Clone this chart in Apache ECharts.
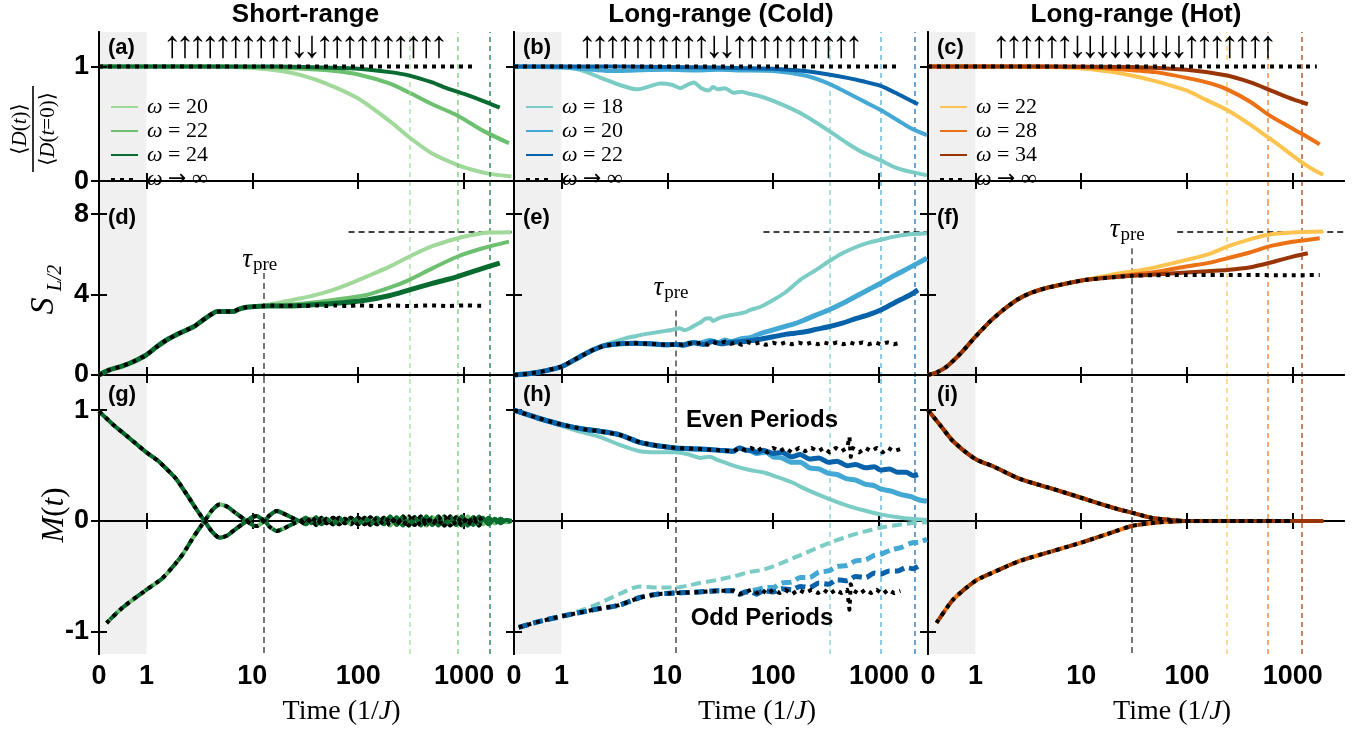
<!DOCTYPE html>
<html><head><meta charset="utf-8">
<script src="https://cdn.jsdelivr.net/npm/echarts@6/dist/echarts.min.js"></script>
<style>html,body{margin:0;padding:0;background:#fff}#c{width:1369px;height:731px}</style>
</head><body><div id="c"></div>
<script>
// ================= DATA =================
const tickTimes = [0, 1, 10, 100, 1000];
const tickLabels = ['0', '1', '10', '100', '1000'];
const panelTitles = ['Short-range', 'Long-range (Cold)', 'Long-range (Hot)'];
const panelTags = ['(a)', '(b)', '(c)', '(d)', '(e)', '(f)', '(g)', '(h)', '(i)'];
const spinsA = '↑↑↑↑↑↑↑↑↑↑↓↓↑↑↑↑↑↑↑↑↑↑';
const spinsB = '↑↑↑↑↑↑↑↑↑↑↓↓↑↑↑↑↑↑↑↑↑↑';
const spinsC = '↑↑↑↑↑↑↓↓↓↓↓↓↓↓↓↑↑↑↑↑↑↑';
const omegaA = ['20', '22', '24'];
const omegaB = ['18', '20', '22'];
const omegaC = ['22', '28', '34'];
const tHeatA = [305, 869, 1730];
const tHeatB = [340, 1035, 2183];
const tHeatC = [240, 587, 1231];
const tauPre = [12.9, 11.9, 30];
const tauLineTop = [5.07, 3.2, 6.3];     // S value where tau line starts (row 2)
const tauLabelLevel = [5.72, 4.33, 7.21]; // S value of tau label centre
const pageValue = 7.1;
const pageStart = 81;
const zeroStart = 200;

// (a) normalized domain wall
const a_w20 = [[0,1],[1,1],[5,1],[10,0.985],[20,0.955],[30,0.92],[50,0.85],[100,0.72],[200,0.52],[305,0.38],[500,0.24],[870,0.14],[1300,0.09],[1700,0.065],[2800,0.04]];
const a_w22 = [[0,1],[1,1],[10,0.995],[30,0.98],[60,0.96],[100,0.93],[200,0.85],[305,0.77],[500,0.67],[870,0.57],[1500,0.44],[2650,0.33]];
const a_w24 = [[0,1],[1,1],[10,1],[30,0.995],[100,0.98],[200,0.95],[305,0.92],[500,0.86],[640,0.82],[1000,0.76],[1500,0.70],[2170,0.64]];
const a_inf = [[0,1],[1320,1]];
// (b)
const b_w18 = [[0,1],[1,1],[1.5,0.97],[2.3,0.905],[3.5,0.84],[5.2,0.80],[7,0.83],[8.6,0.85],[11,0.84],[13.3,0.81],[15.5,0.84],[17.8,0.86],[21,0.81],[24.7,0.79],[27,0.82],[30,0.80],[35,0.81],[42,0.77],[50,0.78],[60,0.76],[75,0.74],[100,0.70],[150,0.63],[200,0.57],[334,0.44],[500,0.33],[700,0.25],[1035,0.18],[1500,0.11],[2000,0.08],[2830,0.05]];
const b_w20 = [[0,1],[1,0.99],[2,0.97],[3,0.96],[5,0.965],[10,0.97],[20,0.965],[30,0.97],[50,0.965],[100,0.96],[200,0.92],[334,0.85],[500,0.77],[700,0.70],[1035,0.62],[1500,0.53],[2000,0.46],[2830,0.40]];
const b_w22 = [[0,1],[1,1],[10,0.995],[30,0.99],[100,0.98],[200,0.96],[334,0.93],[500,0.90],[700,0.87],[1035,0.83],[1500,0.76],[2330,0.67]];
const b_inf = [[0,1],[1520,1]];
// (c)
const c_w22 = [[0,1],[1,1],[5,0.995],[11,0.98],[20,0.95],[30,0.92],[48,0.876],[99,0.79],[150,0.71],[240,0.62],[400,0.49],[587,0.38],[800,0.29],[1231,0.16],[1500,0.11],[1940,0.055]];
const c_w28 = [[0,1],[1,1],[10,0.995],[20,0.98],[50,0.95],[99,0.90],[170,0.85],[240,0.80],[400,0.69],[587,0.58],[900,0.48],[1231,0.41],[1800,0.32]];
const c_w34 = [[0,1],[1,1],[30,0.995],[99,0.97],[240,0.92],[400,0.86],[587,0.80],[900,0.73],[1390,0.67]];
const c_inf = [[0,1],[1690,1]];
// (d) half-chain entanglement entropy
const d_base = [[0,0],[0.22,0.25],[0.5,0.45],[0.72,0.66],[1,1.0],[1.25,1.4],[1.55,1.74],[2,2.05],[2.4,2.24],[2.8,2.4],[3.2,2.62],[3.8,2.9],[4.6,3.15],[5.5,3.16],[6.6,3.15],[7.5,3.28],[8.8,3.37],[10.5,3.4],[12.9,3.43]];
const d_inf_tail = [[16,3.45],[20,3.43],[25,3.46],[30,3.42],[40,3.46],[50,3.43],[60,3.46],[80,3.43],[100,3.46],[150,3.43],[200,3.46],[300,3.43],[500,3.46],[700,3.43],[1000,3.46],[1500,3.44]];
const d_w20_tail = [[16,3.55],[20,3.65],[28,3.8],[40,3.98],[58,4.23],[80,4.5],[120,4.89],[200,5.4],[305,5.89],[500,6.4],[869,6.8],[1300,7.0],[1700,7.08],[2800,7.1]];
const d_w22_tail = [[20,3.48],[30,3.55],[58,3.73],[120,3.98],[200,4.35],[305,4.73],[500,5.3],[869,5.89],[1500,6.3],[2650,6.63]];
const d_w24_tail = [[20,3.43],[30,3.46],[58,3.55],[120,3.73],[200,3.95],[305,4.23],[500,4.55],[869,4.89],[1400,5.25],[2170,5.56]];
// (e)
const e_base = [[0,0],[0.3,0.06],[0.6,0.18],[1,0.41],[1.5,0.91],[2,1.25],[2.5,1.45],[3.5,1.55],[5,1.58],[7,1.55],[10,1.5],[12,1.52]];
const e_inf_tail = [[14,1.5],[16,1.58],[18,1.52],[21,1.62],[24,1.5],[27,1.64],[30,1.55],[35,1.66],[40,1.55],[45,1.62],[50,1.5],[57,1.64],[65,1.54],[75,1.62],[85,1.5],[100,1.6],[115,1.52],[130,1.62],[150,1.53],[175,1.61],[200,1.52],[230,1.62],[265,1.53],[300,1.62],[350,1.53],[400,1.62],[460,1.53],[530,1.62],[600,1.53],[700,1.62],[800,1.53],[920,1.62],[1050,1.52],[1200,1.62],[1380,1.53],[1590,1.6]];
const e_w18 = [[0,0],[0.3,0.06],[0.6,0.18],[1,0.41],[1.5,0.91],[2,1.25],[2.5,1.47],[3,1.62],[4,1.82],[4.8,1.91],[6,2.02],[8.7,2.16],[11,2.24],[13,2.32],[14.5,2.22],[16,2.3],[18,2.45],[21,2.65],[23,2.8],[25.4,2.82],[27,2.68],[30,2.8],[34,2.9],[40,2.98],[48,3.05],[55,3.12],[60,3.23],[75,3.38],[100,3.73],[130,4.1],[180,4.73],[250,5.2],[334,5.64],[450,6.05],[600,6.35],[800,6.58],[1035,6.72],[1400,6.88],[1800,6.97],[2300,7.02],[2830,7.05]];
const e_w20_tail = [[14,1.5],[17,1.62],[20,1.58],[25,1.72],[30,1.6],[35,1.74],[40,1.66],[50,1.8],[60,1.85],[75,2.05],[100,2.24],[130,2.42],[160,2.55],[200,2.75],[260,3.0],[334,3.23],[450,3.55],[600,3.9],[800,4.25],[1035,4.56],[1400,4.95],[1800,5.25],[2300,5.55],[2830,5.8]];
const e_w22_tail = [[14,1.48],[18,1.6],[22,1.52],[27,1.66],[32,1.55],[40,1.62],[50,1.65],[60,1.7],[75,1.78],[100,1.9],[130,2.02],[160,2.08],[200,2.15],[260,2.28],[334,2.4],[450,2.58],[600,2.8],[800,3.0],[1035,3.23],[1300,3.5],[1600,3.75],[2000,4.0],[2330,4.23]];
// (f)
const f_base = [[0,0],[0.2,0.15],[0.39,0.41],[0.7,1.1],[1,1.9],[1.4,2.7],[1.83,3.23],[2.5,3.75],[3.27,4.06],[4.5,4.3],[6.3,4.48],[8.5,4.62],[11.2,4.73],[20,4.86],[30,4.93]];
const f_inf_tail = [[50,4.96],[100,4.97],[300,4.97],[1000,4.96],[1800,4.97]];
const f_w22_tail = [[20,5.0],[30,5.14],[50,5.35],[99,5.72],[170,6.05],[240,6.38],[400,6.75],[587,6.97],[1000,7.08],[1940,7.13]];
const f_w28_tail = [[20,4.88],[30,4.98],[50,5.12],[99,5.39],[170,5.6],[240,5.8],[400,6.1],[587,6.38],[1000,6.62],[1800,6.8]];
const f_w34_tail = [[50,4.99],[99,5.1],[170,5.17],[240,5.22],[400,5.36],[587,5.56],[900,5.82],[1390,6.05]];
// (g) magnetization, even / odd periods
const g_even = [[0,0.99],[0.3,0.87],[0.58,0.77],[1,0.62],[1.3,0.54],[1.55,0.47],[1.91,0.38],[2.4,0.24],[2.9,0.12],[3.54,0],[4.2,-0.1],[4.9,-0.15],[5.8,-0.13],[7,-0.07],[8.85,0],[10,0.035],[11,0.045],[12,0.025],[13,0],[14.5,0.05],[17,0.09],[19.5,0.07],[22,0.045],[25,0.02],[28,0],[32,0.03],[36,-0.02],[40,0.035],[45,-0.03],[50,0.02],[58,-0.03],[66,0.03],[75,-0.02],[85,0.03],[100,-0.03],[115,0.03],[130,-0.035],[150,0.03],[175,-0.03],[200,0.04],[230,-0.035],[265,0.04],[300,-0.04],[340,0.035],[390,-0.04],[440,0.04],[500,-0.035],[570,0.04],[650,-0.04],[740,0.04],[840,-0.035],[950,0.04],[1080,-0.04],[1220,0.035],[1380,-0.04],[1500,0.03],[1700,-0.03],[1950,0.02],[2200,-0.02],[2500,0.01],[2800,0]];
const g_odd = [[0.16,-0.92],[0.5,-0.78],[1,-0.62],[1.4,-0.52],[1.75,-0.42],[2.2,-0.3],[2.8,-0.14],[3.54,0],[4.2,0.1],[4.9,0.15],[5.8,0.13],[7,0.07],[8.85,0],[10,-0.035],[11,-0.045],[12,-0.025],[13,0],[14.5,-0.05],[17,-0.09],[19.5,-0.07],[22,-0.045],[25,-0.02],[28,0],[32,-0.03],[36,0.02],[40,-0.035],[45,0.03],[50,-0.02],[58,0.03],[66,-0.03],[75,0.02],[85,-0.03],[100,0.03],[115,-0.03],[130,0.035],[150,-0.03],[175,0.03],[200,-0.04],[230,0.035],[265,-0.04],[300,0.04],[340,-0.035],[390,0.04],[440,-0.04],[500,0.035],[570,-0.04],[650,0.04],[740,-0.04],[840,0.035],[950,-0.04],[1080,0.04],[1220,-0.035],[1380,0.04],[1500,-0.03],[1700,0.03],[1950,-0.02],[2200,0.02],[2500,-0.01],[2800,0]];
// (h)
const h_even_base = [[0,1.0],[0.5,0.93],[1,0.87],[1.6,0.83],[2.3,0.81],[3.5,0.78],[5.5,0.71],[8,0.68],[11.9,0.66],[20,0.65],[30,0.64],[42,0.63],[48,0.66],[55,0.64]];
const h_even_inf_tail = [[62,0.66],[70,0.63],[78,0.66],[88,0.62],[100,0.66],[115,0.63],[130,0.66],[150,0.62],[175,0.66],[200,0.63],[230,0.66],[265,0.63],[300,0.66],[340,0.62],[390,0.66],[440,0.63],[500,0.66],[525,0.76],[540,0.58],[560,0.66],[650,0.62],[740,0.66],[840,0.63],[950,0.66],[1080,0.62],[1220,0.66],[1380,0.63],[1590,0.65]];
const h_even_w22_tail = [[62,0.64],[70,0.62],[80,0.64],[100,0.61],[120,0.62],[150,0.58],[180,0.6],[220,0.56],[270,0.57],[334,0.53],[400,0.54],[500,0.5],[600,0.51],[750,0.48],[900,0.49],[1035,0.46],[1250,0.47],[1500,0.44],[1800,0.44],[2100,0.41],[2330,0.42]];
const h_even_w20_tail = [[62,0.63],[70,0.61],[85,0.62],[100,0.58],[120,0.57],[150,0.53],[180,0.53],[220,0.48],[270,0.47],[334,0.43],[400,0.42],[500,0.38],[600,0.37],[750,0.33],[900,0.32],[1035,0.29],[1300,0.27],[1600,0.24],[2000,0.22],[2400,0.19],[2830,0.18]];
const h_even_w18 = [[0,1.0],[0.5,0.93],[1,0.86],[1.6,0.8],[2.3,0.76],[3.5,0.69],[5.5,0.63],[8,0.62],[11.9,0.62],[16,0.6],[20.4,0.57],[25,0.58],[30,0.55],[42,0.5],[60,0.46],[80,0.44],[100,0.41],[150,0.35],[200,0.29],[334,0.2],[500,0.14],[700,0.1],[1035,0.06],[1500,0.035],[2000,0.02],[2830,0.01]];
const h_odd_base = [[0.1,-0.96],[0.5,-0.91],[1,-0.86],[1.6,-0.82],[2.3,-0.79],[3.5,-0.76],[5.5,-0.69],[8,-0.66],[11.9,-0.65],[20,-0.64],[30,-0.63],[42,-0.63],[48,-0.66],[55,-0.64]];
const h_odd_inf_tail = [[62,-0.62],[70,-0.65],[78,-0.62],[88,-0.66],[100,-0.62],[115,-0.65],[130,-0.62],[150,-0.66],[175,-0.62],[200,-0.65],[230,-0.62],[265,-0.65],[300,-0.62],[340,-0.66],[390,-0.62],[440,-0.65],[500,-0.62],[525,-0.8],[540,-0.57],[560,-0.62],[650,-0.66],[740,-0.62],[840,-0.65],[950,-0.62],[1080,-0.66],[1220,-0.62],[1380,-0.65],[1590,-0.63]];
const h_odd_w22_tail = [[62,-0.64],[70,-0.66],[80,-0.63],[100,-0.64],[120,-0.61],[150,-0.62],[180,-0.59],[220,-0.6],[270,-0.56],[334,-0.57],[400,-0.53],[500,-0.54],[600,-0.5],[750,-0.51],[900,-0.47],[1035,-0.48],[1250,-0.45],[1500,-0.45],[1800,-0.42],[2100,-0.43],[2330,-0.41]];
const h_odd_w20_tail = [[62,-0.63],[70,-0.62],[85,-0.6],[100,-0.6],[120,-0.56],[150,-0.55],[180,-0.51],[220,-0.51],[270,-0.46],[334,-0.45],[400,-0.41],[500,-0.4],[600,-0.36],[750,-0.35],[900,-0.31],[1035,-0.3],[1300,-0.26],[1600,-0.24],[2000,-0.2],[2400,-0.19],[2830,-0.165]];
const h_odd_w18 = [[0.1,-0.96],[0.5,-0.91],[1,-0.86],[1.6,-0.8],[2.3,-0.74],[3.5,-0.66],[5.5,-0.59],[8,-0.6],[11.9,-0.6],[16,-0.58],[20,-0.56],[30,-0.53],[42,-0.5],[60,-0.46],[80,-0.44],[100,-0.41],[150,-0.34],[200,-0.29],[334,-0.2],[500,-0.14],[700,-0.1],[1035,-0.06],[1500,-0.035],[2000,-0.02],[2830,-0.01]];
// (i)
const i_even = [[0,1.0],[0.25,0.87],[0.53,0.72],[1,0.56],[1.5,0.49],[2.63,0.38],[5,0.3],[10,0.21],[20,0.12],[30,0.076],[46,0.03],[70,0.01],[99,0],[300,0],[1000,0],[1940,0]];
const i_odd = [[0.18,-0.92],[0.53,-0.71],[1,-0.54],[1.5,-0.46],[2.63,-0.36],[5,-0.28],[10,-0.195],[20,-0.1],[30,-0.045],[50,-0.015],[99,0],[300,0],[1000,0],[1940,0]];

// ================= STYLE / LAYOUT =================
const GREENS = ['#a1d99b', '#6cc070', '#0a6b30'];
const BLUES = ['#7bccc4', '#43a8d4', '#0862aa'];
const ORANGES = ['#fec44f', '#ec7014', '#993404'];
const PALS = [GREENS, BLUES, ORANGES];
const SANS = "'Liberation Sans', Arial, sans-serif";
const SERIF = "'Liberation Serif', 'DejaVu Serif', serif";
const DOT = [4, 5];
const DASH = [10, 5];

const XL = 0.448;
const tu = t => (t <= 1 ? t * XL : XL + Math.log10(t));
const P = a => a.map(p => [tu(p[0]), p[1]]);
const upTo = (a, tmax) => a.filter(p => p[0] <= tmax);
const tickU = tickTimes.map(tu);

const cols = [{l: 99, w: 413, max: 3.9}, {l: 514, w: 414, max: 3.91}, {l: 928, w: 416, max: 3.933}];
const rows = [
  {t: 32, h: 172, min: -0.2, max: 1.3, ticks: [0, 1]},
  {t: 204, h: 173, min: -0.1, max: 8.5, ticks: [0, 4, 8]},
  {t: 377, h: 277, min: -1.2, max: 1.3, ticks: [-1, 0, 1]}
];

const grid = [], xAxis = [], yAxis = [], series = [];
const axisLine = {show: true, lineStyle: {color: '#000', width: 2}};
const axisTickBase = {show: true, inside: true, length: 8, lineStyle: {color: '#000', width: 2}};
const labFmt = v => { const i = tickU.findIndex(u => Math.abs(u - v) < 1e-6); return i >= 0 ? tickLabels[i] : ''; };

for (let r = 0; r < 3; r++) for (let c = 0; c < 3; c++) {
  const k = r * 3 + c;
  grid.push({left: cols[c].l, top: rows[r].t, width: cols[c].w, height: rows[r].h, containLabel: false, outerBoundsMode: 'none'});
  ['bottom', 'top'].forEach((pos, j) => xAxis.push({
    type: 'value', gridIndex: k, position: pos, min: 0, max: cols[c].max, z: 6,
    axisLine, splitLine: {show: false},
    axisTick: Object.assign({}, axisTickBase, {customValues: tickU}),
    axisLabel: {show: r === 2 && j === 0, customValues: tickU, formatter: labFmt, fontSize: 27, fontFamily: SANS, fontWeight: 'bold', color: '#000', margin: 9}
  }));
  ['left', 'right'].forEach((pos, j) => yAxis.push({
    type: 'value', gridIndex: k, position: pos, min: rows[r].min, max: rows[r].max, z: 6,
    axisLine, splitLine: {show: false},
    axisTick: Object.assign({}, axisTickBase, {customValues: rows[r].ticks}),
    axisLabel: {show: c === 0 && j === 0, customValues: rows[r].ticks, fontSize: 27, fontFamily: SANS, fontWeight: 'bold', color: '#000', margin: 10}
  }));
}

let zc = 3;
function L(k, name, arr, color, opt) {
  opt = opt || {};
  series.push({
    type: 'line', name, xAxisIndex: 2 * k, yAxisIndex: 2 * k, data: P(arr),
    symbol: 'none', showSymbol: false, silent: true, animation: false,
    smooth: opt.smooth === undefined ? 0.25 : opt.smooth,
    lineStyle: {color, width: opt.w || 4, type: opt.type || 'solid', cap: 'butt', join: 'round', dashOffset: opt.off || 0},
    itemStyle: {color}, z: zc++
  });
}

// annotation series (shading + reference lines) for every panel
const tHeats = [tHeatA, tHeatB, tHeatC];
for (let r = 0; r < 3; r++) for (let c = 0; c < 3; c++) {
  const k = r * 3 + c, R = rows[r], xmax = cols[c].max;
  series.push({
    type: 'line', xAxisIndex: 2 * k, yAxisIndex: 2 * k, data: [], symbol: 'none', silent: true, animation: false, z: 1,
    markArea: {silent: true, itemStyle: {color: '#f0f0f0'}, data: [[{coord: [0, R.min]}, {coord: [XL, R.max]}]]}
  });
  const lines = [];
  tHeats[c].forEach((t, i) => lines.push([
    {coord: [tu(t), R.min], lineStyle: {color: PALS[c][i], width: 1.6, type: [5, 4], opacity: 0.75}},
    {coord: [tu(t), R.max]}
  ]));
  const dl = {color: '#000', width: 1.6, type: [6, 4]};
  if (r === 0) lines.push([{coord: [tu(zeroStart), 0], lineStyle: dl}, {coord: [xmax, 0]}]);
  if (r === 1) {
    lines.push([{coord: [tu(pageStart), pageValue], lineStyle: dl}, {coord: [xmax, pageValue]}]);
    lines.push([{coord: [tu(tauPre[c]), tauLineTop[c]], lineStyle: {color: '#555', width: 1.6, type: [6, 4]}}, {coord: [tu(tauPre[c]), R.min]}]);
  }
  if (r === 2) {
    lines.push([{coord: [tu(0.2), 0], lineStyle: Object.assign({}, dl, {color: '#333'})}, {coord: [xmax, 0]}]);
    lines.push([{coord: [tu(tauPre[c]), R.max], lineStyle: {color: '#555', width: 1.6, type: [6, 4]}}, {coord: [tu(tauPre[c]), R.min]}]);
  }
  series.push({
    type: 'line', xAxisIndex: 2 * k, yAxisIndex: 2 * k, data: [], symbol: 'none', silent: true, animation: false, z: 2,
    markLine: {silent: true, symbol: ['none', 'none'], label: {show: false}, animation: false, data: lines}
  });
}

// row 1
L(0, 'a20', a_w20, GREENS[0]); L(0, 'a22', a_w22, GREENS[1]); L(0, 'a24', a_w24, GREENS[2]); L(0, 'ainf', a_inf, '#000', {type: DOT, smooth: 0});
L(1, 'b18', b_w18, BLUES[0]); L(1, 'b20', b_w20, BLUES[1]); L(1, 'b22', b_w22, BLUES[2]); L(1, 'binf', b_inf, '#000', {type: DOT, smooth: 0});
L(2, 'c22', c_w22, ORANGES[0]); L(2, 'c28', c_w28, ORANGES[1]); L(2, 'c34', c_w34, ORANGES[2]); L(2, 'cinf', c_inf, '#000', {type: DOT, smooth: 0});
// row 2
L(3, 'd20', d_base.concat(d_w20_tail), GREENS[0]);
L(3, 'd22', d_base.concat(d_w22_tail), GREENS[1]);
L(3, 'd24', d_base.concat(d_w24_tail), GREENS[2], {w: 5});
L(3, 'dinf', d_base.concat(d_inf_tail), '#000', {type: DOT});
L(4, 'e18', e_w18, BLUES[0]);
L(4, 'e20', e_base.concat(e_w20_tail), BLUES[1], {w: 5});
L(4, 'e22', e_base.concat(e_w22_tail), BLUES[2], {w: 5});
L(4, 'einf', e_base.concat(e_inf_tail), '#000', {type: DOT, smooth: 0});
L(5, 'f22', upTo(f_base, 11.2).concat(f_w22_tail), ORANGES[0]);
L(5, 'f28', upTo(f_base, 11.2).concat(f_w28_tail), ORANGES[1]);
L(5, 'f34', f_base.concat(f_w34_tail), ORANGES[2]);
L(5, 'finf', f_base.concat(f_inf_tail), '#000', {type: DOT});
// row 3
GREENS.forEach((col, i) => { L(6, 'g' + i + 'e', g_even, col); L(6, 'g' + i + 'o', g_odd, col, {type: DASH, off: i * 5}); });
L(6, 'ginfe', upTo(g_even, 1500), '#000', {type: DOT}); L(6, 'ginfo', upTo(g_odd, 1500), '#000', {type: DOT});
L(7, 'h18e', h_even_w18, BLUES[0]); L(7, 'h18o', h_odd_w18, BLUES[0], {type: DASH});
L(7, 'h20e', h_even_base.concat(h_even_w20_tail), BLUES[1], {w: 5}); L(7, 'h20o', h_odd_base.concat(h_odd_w20_tail), BLUES[1], {w: 5, type: DASH});
L(7, 'h22e', h_even_base.concat(h_even_w22_tail), BLUES[2], {w: 5}); L(7, 'h22o', h_odd_base.concat(h_odd_w22_tail), BLUES[2], {w: 5, type: DASH});
L(7, 'hinfe', h_even_base.concat(h_even_inf_tail), '#000', {type: DOT, smooth: 0}); L(7, 'hinfo', h_odd_base.concat(h_odd_inf_tail), '#000', {type: DOT, smooth: 0});
ORANGES.forEach((col, i) => { L(8, 'i' + i + 'e', i_even, col); L(8, 'i' + i + 'o', i_odd, col, {type: DASH, off: i * 5}); });
L(8, 'iinfe', upTo(i_even, 1800), '#000', {type: DOT}); L(8, 'iinfo', upTo(i_odd, 1800), '#000', {type: DOT});

// legends (row 1)
const omegas = [omegaA, omegaB, omegaC];
const legNames = [['a20', 'a22', 'a24', 'ainf'], ['b18', 'b20', 'b22', 'binf'], ['c22', 'c28', 'c34', 'cinf']];
const legend = [0, 1, 2].map(c => ({
  orient: 'vertical', left: cols[c].l + 11, top: 96, padding: 0, itemGap: 2, itemWidth: 27, itemHeight: 14,
  selectedMode: false, data: legNames[c], itemStyle: {opacity: 0, borderWidth: 0},
  formatter: name => { const i = legNames[c].indexOf(name); return i < 3 ? '{w|ω} = ' + omegas[c][i] : '{w|ω} {a|→} ∞'; },
  textStyle: {fontFamily: SERIF, fontSize: 22, color: '#000', lineHeight: 22, padding: [0, 0, 0, 4],
    rich: {w: {fontFamily: SERIF, fontStyle: 'italic', fontSize: 22, color: '#000'},
           a: {fontFamily: "'DejaVu Sans', sans-serif", fontSize: 22, color: '#000'}}}
}));

// ================= GRAPHIC TEXT =================
const g = [];
const T = (x, y, text, font, extra) => g.push(Object.assign({type: 'text', x, y, z: 20, silent: true,
  style: Object.assign({text, font, fill: '#000', align: 'center', verticalAlign: 'middle'}, extra || {})}));
panelTitles.forEach((s, c) => T(cols[c].l + cols[c].w / 2, 15, s, `bold 26px ${SANS}`));
panelTags.forEach((s, k) => { const r = Math.floor(k / 3), c = k % 3; T(cols[c].l + 9, [48, 218, 395][r], s, `bold 22px ${SANS}`, {align: 'left'}); });
[spinsA, spinsB, spinsC].forEach((s, c) => Array.from(s).forEach((ch, i) =>
  T(cols[c].l + 73 + i * 12.7, 47, ch, `38px 'Liberation Sans', 'DejaVu Sans', sans-serif`)));
const yPix = (r, v) => rows[r].t + (rows[r].max - v) / (rows[r].max - rows[r].min) * rows[r].h;
const xPix = (c, t) => cols[c].l + tu(t) / cols[c].max * cols[c].w;
[0, 1, 2].forEach(c => {
  const x = xPix(c, tauPre[c]), y = yPix(1, tauLabelLevel[c]);
  T(x - 17, y, 'τ', `italic 27px ${SERIF}`);
  T(x + 1, y + 5, 'pre', `19px ${SERIF}`);
  g.push({type: 'text', x: cols[c].l + cols[c].w / 2 + 36, y: 712, z: 20, silent: true,
    style: {text: 'Time (1/{i|J})', font: `28px ${SERIF}`, fill: '#000', align: 'center', verticalAlign: 'middle',
      rich: {i: {fontFamily: SERIF, fontStyle: 'italic', fontSize: 28, fill: '#000'}}}});
});
T(762, 420, 'Even Periods', `bold 24px ${SANS}`);
T(762, 618, 'Odd Periods', `bold 24px ${SANS}`);
const ri = {i: {fontFamily: SERIF, fontStyle: 'italic', fontSize: 21, fill: '#000'}};
g.push({type: 'group', x: 33, y: 129, rotation: Math.PI / 2, children: [
  {type: 'text', x: 0, y: -13, style: {text: '⟨{i|D}({i|t})⟩', font: `21px ${SERIF}`, fill: '#000', align: 'center', verticalAlign: 'middle', rich: ri}},
  {type: 'line', shape: {x1: -43, y1: 0, x2: 43, y2: 0}, style: {stroke: '#000', lineWidth: 1.6}},
  {type: 'text', x: 0, y: 15, style: {text: '⟨{i|D}({i|t}=0)⟩', font: `21px ${SERIF}`, fill: '#000', align: 'center', verticalAlign: 'middle', rich: ri}}
]});
g.push({type: 'group', x: 48, y: 292, rotation: Math.PI / 2, children: [
  {type: 'text', x: -14, y: -4, style: {text: 'S', font: `italic 34px ${SERIF}`, fill: '#000', align: 'center', verticalAlign: 'middle'}},
  {type: 'text', x: 14, y: 8, style: {text: 'L/2', font: `italic 20px ${SERIF}`, fill: '#000', align: 'center', verticalAlign: 'middle'}}
]});
g.push({type: 'group', x: 55, y: 515, rotation: Math.PI / 2, children: [
  {type: 'text', x: 0, y: 0, style: {text: '{i|M}({i|t})', font: `31px ${SERIF}`, fill: '#000', align: 'center', verticalAlign: 'middle',
    rich: {i: {fontFamily: SERIF, fontStyle: 'italic', fontSize: 31, fill: '#000'}}}}
]});

const chart = echarts.init(document.getElementById('c'));
chart.setOption({animation: false, backgroundColor: '#fff', grid, xAxis, yAxis, series, legend, graphic: g});
</script></body></html>
